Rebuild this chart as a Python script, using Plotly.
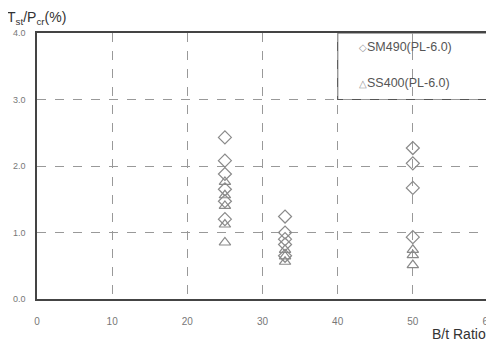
import plotly.graph_objects as go

sm490_x = [25, 25, 25, 25, 25, 25, 33, 33, 33, 33, 33, 50, 50, 50, 50]
sm490_y = [2.43, 2.08, 1.88, 1.65, 1.47, 1.20, 1.24, 1.00, 0.90, 0.82, 0.65, 2.27, 2.04, 1.67, 0.93]
ss400_x = [25, 25, 25, 25, 25, 33, 33, 33, 50, 50, 50]
ss400_y = [1.76, 1.56, 1.40, 1.12, 0.85, 0.74, 0.64, 0.56, 0.74, 0.66, 0.51]
x_ticks = [0, 10, 20, 30, 40, 50, 60]
y_ticks = [0.0, 1.0, 2.0, 3.0, 4.0]
legend_labels = ["SM490(PL-6.0)", "SS400(PL-6.0)"]
legend_symbols = ["\u25c7", "\u25b3"]

mcol = "#8a8a8a"
fig = go.Figure()
fig.add_trace(go.Scatter(x=sm490_x, y=sm490_y, mode="markers", name=legend_labels[0],
                         marker=dict(symbol="diamond-open", size=10, color=mcol, line=dict(width=1.2))))
fig.add_trace(go.Scatter(x=ss400_x, y=ss400_y, mode="markers", name=legend_labels[1],
                         marker=dict(symbol="triangle-up-open", size=10, color=mcol, line=dict(width=1.2))))

# legend box
fig.add_shape(type="rect", x0=40, x1=60, y0=3, y1=4, xref="x", yref="y",
              line=dict(color="#555555", width=1.2), fillcolor="white", layer="below")
for i, (sym, lab) in enumerate(zip(legend_symbols, legend_labels)):
    fig.add_annotation(text=f"<span style='font-size:10px;color:#999999'>{sym}</span>{lab}",
                       xref="x", yref="y", x=42.6, y=3.79 - i * 0.54,
                       xanchor="left", yanchor="middle", showarrow=False,
                       font=dict(size=12.5, color="#555555"))

fig.update_layout(
    width=486, height=334,
    margin=dict(l=29, r=6, t=25, b=43, autoexpand=False),
    paper_bgcolor="white", plot_bgcolor="white",
    font=dict(family="Liberation Sans, Arial, sans-serif", color="#555555"),
    showlegend=False,
)
fig.update_xaxes(range=[0, 60], tickvals=x_ticks, ticktext=[str(v) for v in x_ticks],
                 showgrid=True, gridcolor="#999999", griddash="dash", gridwidth=1,
                 showline=True, linecolor="#444444", linewidth=1.5, mirror=True,
                 ticks="", ticklabelstandoff=12, tickfont=dict(size=10, color="#777777"),
                 zeroline=False, automargin=False)
fig.update_yaxes(range=[0, 4], tickvals=y_ticks, ticktext=["%.1f" % v for v in y_ticks],
                 showgrid=True, gridcolor="#999999", griddash="dash", gridwidth=1,
                 showline=True, linecolor="#444444", linewidth=1.5, mirror=True,
                 ticks="", ticklabelstandoff=8, tickfont=dict(size=9, color="#777777"),
                 zeroline=False, automargin=False)

fig.add_annotation(text="T<sub>st</sub>/P<sub>cr</sub>(%)", xref="paper", yref="paper",
                   x=-0.071, y=1.0, yshift=4, xanchor="left", yanchor="bottom", showarrow=False,
                   font=dict(size=14, color="#333333"))
fig.add_annotation(text="B/t Ratio", xref="paper", yref="paper",
                   x=1.0, y=0, yshift=-25, xanchor="right", yanchor="top", showarrow=False,
                   font=dict(size=14, color="#333333"))

fig.write_html("out.html")
